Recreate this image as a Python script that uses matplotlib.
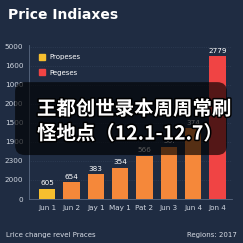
import matplotlib
matplotlib.use("Agg")
import matplotlib.pyplot as plt
import matplotlib.patheffects as pe
from matplotlib.patches import FancyBboxPatch, Patch

# data (bar heights in tick steps, axis labels are as printed)
categories = ["Jun 1", "Jun 2", "Jay 1", "May 1", "Pat 2", "Jun 3", "Jun 4", "Jon 4"]
heights = [0.55, 0.90, 1.30, 1.64, 2.28, 2.75, 3.73, 7.50]
value_labels = ["605", "654", "383", "354", "566", "50.", "374", "2779"]
ytick_labels = ["0", "2000", "2300", "1900", "1500", "2000", "1000", "1600", "5000"]
legend_names = ["Propeses", "Pegeses"]

bg = "#1f2c42"
yellow = "#f7bf2f"
orange = "#f5883a"
red = "#f04444"
colors = [yellow] + [orange] * 6 + [red]

fig = plt.figure(figsize=(2.43, 2.43), dpi=100)
fig.patch.set_facecolor(bg)
ax = fig.add_axes([0.119, 0.181, 0.836, 0.635])
ax.set_facecolor(bg)

x = list(range(len(categories)))
ax.bar(x, heights, width=0.68, color=colors, zorder=3)
for xi, h, lab in zip(x, heights, value_labels):
    ax.text(xi, h + 0.12, lab, ha="center", va="bottom", color="white", fontsize=5.2, zorder=4)

ax.set_xlim(-0.75, 7.6)
ax.set_ylim(0, 8.1)
ax.set_yticks(range(len(ytick_labels)))
ax.set_yticklabels(ytick_labels)
ax.set_xticks(x)
ax.set_xticklabels(categories)
ax.tick_params(colors="#d0d6e0", labelsize=5.2, length=0, pad=4)
ax.grid(axis="y", color="#34445c", linewidth=0.5, linestyle=":", zorder=0)
for s in ["top", "right"]:
    ax.spines[s].set_visible(False)
ax.spines["left"].set_color("#5a6a82")
ax.spines["bottom"].set_color("#5a6a82")
ax.spines["left"].set_linewidth(0.6)
ax.spines["bottom"].set_linewidth(0.6)

handles = [Patch(color=yellow), Patch(color=red)]
leg = ax.legend(handles, legend_names, loc="upper left", bbox_to_anchor=(0.02, 0.98),
                frameon=False, fontsize=5, labelcolor="white", handlelength=0.9,
                handleheight=0.9, labelspacing=1.3, handletextpad=0.6)

fig.text(0.033, 0.94, "Price Indiaxes", color="white", fontsize=10,
         fontweight="bold", va="center", ha="left")
fig.text(0.025, 0.033, "Lrice change revel Praces", color="#d8dde6", fontsize=5, va="center")
fig.text(0.975, 0.033, "Regions: 2017", color="#d8dde6", fontsize=5, va="center", ha="right")

# dark caption box with Chinese text
box = FancyBboxPatch((0.062, 0.362), 0.872, 0.30, boxstyle="round,pad=0,rounding_size=0.04",
                     transform=fig.transFigure, facecolor="black", alpha=0.65,
                     edgecolor="none", zorder=5)
fig.patches.append(box)
stroke = [pe.withStroke(linewidth=2.2, foreground="black")]
fig.text(0.152, 0.55, "王都创世录本周周常刷", color="white", fontsize=14, fontweight="bold",
         family=["Noto Sans CJK SC", "DejaVu Sans"], va="center", ha="left",
         path_effects=stroke, zorder=6)
fig.text(0.152, 0.448, "怪地点（12.1-12.7）", color="white", fontsize=14, fontweight="bold",
         family=["Noto Sans CJK SC", "DejaVu Sans"], va="center", ha="left",
         path_effects=stroke, zorder=6)

fig.savefig("out.png", dpi=100, facecolor=bg)
